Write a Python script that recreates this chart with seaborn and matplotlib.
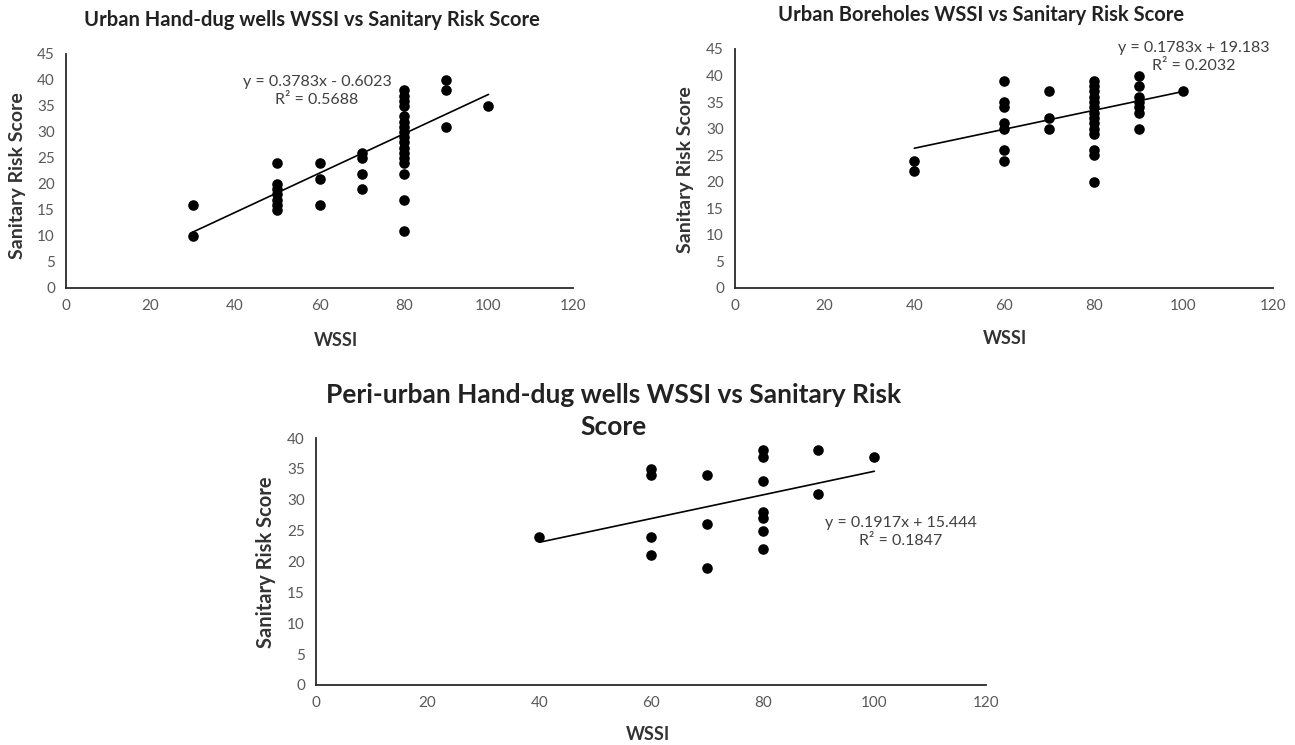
import numpy as np
import pandas as pd
import matplotlib
matplotlib.use("Agg")
import matplotlib.pyplot as plt
import seaborn as sns

# --- data ---
urban_hdw_wssi = [30, 30,
                  50, 50, 50, 50, 50, 50, 50,
                  60, 60, 60,
                  70, 70, 70, 70,
                  80, 80, 80, 80, 80, 80, 80, 80, 80, 80, 80, 80, 80, 80, 80, 80, 80,
                  90, 90, 90,
                  100]
urban_hdw_risk = [16, 10,
                  24, 20, 19, 18, 17, 16, 15,
                  24, 21, 16,
                  26, 25, 22, 19,
                  38, 37, 36, 35, 33, 32, 31, 30, 29, 28, 27, 26, 25, 24, 22, 17, 11,
                  40, 38, 31,
                  35]

urban_bh_wssi = [40, 40,
                 60, 60, 60, 60, 60, 60, 60,
                 70, 70, 70,
                 80, 80, 80, 80, 80, 80, 80, 80, 80, 80, 80, 80, 80, 80,
                 90, 90, 90, 90, 90, 90, 90,
                 100]
urban_bh_risk = [24, 22,
                 39, 35, 34, 31, 30, 26, 24,
                 37, 32, 30,
                 39, 38, 37, 36, 35, 34, 33, 32, 31, 30, 29, 26, 25, 20,
                 40, 38, 36, 35, 34, 33, 30,
                 37]

peri_hdw_wssi = [40,
                 60, 60, 60, 60,
                 70, 70, 70,
                 80, 80, 80, 80, 80, 80, 80,
                 90, 90,
                 100]
peri_hdw_risk = [24,
                 35, 34, 24, 21,
                 34, 26, 19,
                 38, 37, 33, 28, 27, 25, 22,
                 38, 31,
                 37]

# trendline coefficients shown on the chart (slope, intercept, R2)
urban_hdw_fit = (0.3783, -0.6023, 0.5688)
urban_bh_fit = (0.1783, 19.183, 0.2032)
peri_hdw_fit = (0.1917, 15.444, 0.1847)

titles = ["Urban Hand-dug wells WSSI vs Sanitary Risk Score",
          "Urban Boreholes WSSI vs Sanitary Risk Score",
          "Peri-urban Hand-dug wells WSSI vs Sanitary Risk\nScore"]

sns.set_style("white")
plt.rcParams['font.family'] = ['Lato', 'DejaVu Sans']

W, H = 1295, 745
fig = plt.figure(figsize=(W / 100, H / 100), dpi=100)


def px_rect(x0, x1, y_bottom, y_top):
    return [x0 / W, 1 - y_bottom / H, (x1 - x0) / W, (y_bottom - y_top) / H]


def draw_panel(rect, wssi, risk, fit, ymax, eq_pos, xlab_pos, ylab_pos, lab_size):
    ax = fig.add_axes(rect)
    df = pd.DataFrame({"WSSI": wssi, "Risk": risk})
    sns.scatterplot(data=df, x="WSSI", y="Risk", ax=ax, color="black",
                    s=58, edgecolor="black", linewidth=0, zorder=3)
    slope, icpt, r2 = fit
    xs = np.array([min(wssi), max(wssi)])
    sns.lineplot(x=xs, y=slope * xs + icpt, ax=ax, color="black", lw=1.2)
    ax.set_xlim(0, 120)
    ax.set_ylim(0, ymax)
    ax.set_xticks(range(0, 121, 20))
    ax.set_yticks(range(0, ymax + 1, 5))
    ax.tick_params(length=0, labelsize=11, colors="#595959", pad=8)
    for s in ["top", "right"]:
        ax.spines[s].set_visible(False)
    for s in ["left", "bottom"]:
        ax.spines[s].set_color("#2a2a2a")
        ax.spines[s].set_linewidth(1.3)
    ax.set_xlabel("")
    ax.set_ylabel("")
    sign = "+" if icpt >= 0 else "-"
    eq = f"y = {slope:.4f}x {sign} {abs(icpt):g}\nR² = {r2:.4f}"
    fig.text(eq_pos[0] / W, 1 - eq_pos[1] / H, eq, ha="center", va="center",
             fontsize=11.5, color="#404040", linespacing=1.3)
    fig.text(xlab_pos[0] / W, 1 - xlab_pos[1] / H, "WSSI", ha="center",
             va="center", fontsize=13, fontweight="bold", color="#333333")
    fig.text(ylab_pos[0] / W, 1 - ylab_pos[1] / H, "Sanitary Risk Score",
             ha="center", va="center", rotation=90, fontsize=lab_size,
             fontweight="bold", color="#333333")
    return ax


draw_panel(px_rect(66, 573, 288, 54), urban_hdw_wssi, urban_hdw_risk,
           urban_hdw_fit, 45, (317, 91), (336, 341), (18, 176), 14)
draw_panel(px_rect(735, 1273, 288, 49), urban_bh_wssi, urban_bh_risk,
           urban_bh_fit, 45, (1194, 57), (1005, 338), (685, 170), 14)
draw_panel(px_rect(316, 986, 685, 438), peri_hdw_wssi, peri_hdw_risk,
           peri_hdw_fit, 40, (901, 532), (648, 735), (266, 562), 14.5)

fig.text(312 / W, 1 - 20 / H, titles[0], ha="center", va="center",
         fontsize=14.5, fontweight="bold", color="#222222")
fig.text(981 / W, 1 - 15 / H, titles[1], ha="center", va="center",
         fontsize=14.5, fontweight="bold", color="#222222")
fig.text(614 / W, 1 - 411 / H, titles[2], ha="center", va="center",
         fontsize=19, fontweight="bold", color="#222222", linespacing=1.4)

fig.savefig("out.png", dpi=100, facecolor="white")
